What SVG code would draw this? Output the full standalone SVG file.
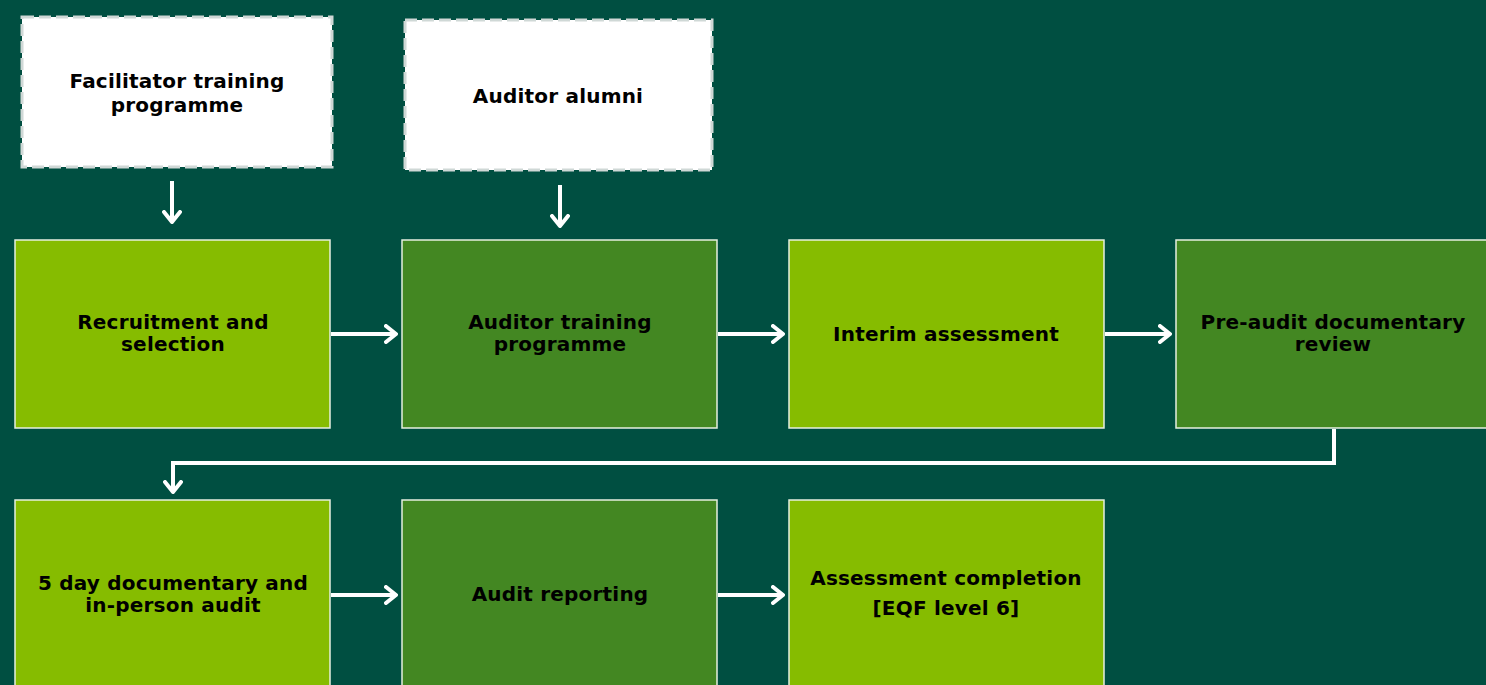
<svg xmlns="http://www.w3.org/2000/svg" width="1486" height="685" viewBox="0 0 1486 685">
<style>
.bg{fill:#004F41}
.dash{fill:#ffffff;stroke:#cfd8d6;stroke-width:3;stroke-dasharray:12 5}
.lg{fill:#86BC00;stroke:#e6efe0;stroke-width:1.5}
.dg{fill:#438722;stroke:#e6efe0;stroke-width:1.5}
.t{font-family:"DejaVu Sans","Verdana",sans-serif;font-weight:bold;font-size:20px;letter-spacing:0.2px;fill:#000;text-anchor:middle;dominant-baseline:central}
.c{fill:none;stroke:#ffffff;stroke-width:4}
</style>
<defs>
<marker id="ah" viewBox="0 0 14 20" refX="12" refY="10" markerWidth="14" markerHeight="20" markerUnits="userSpaceOnUse" orient="auto">
<path d="M2,2 L12,10 L2,18" fill="none" stroke="#ffffff" stroke-width="4" stroke-linecap="round" stroke-linejoin="round"/>
</marker>
</defs>
<rect class="bg" x="0" y="0" width="1486" height="685"/>
<g id="connectors">
<line class="c" x1="172" y1="181" x2="172" y2="222" marker-end="url(#ah)"/>
<line class="c" x1="560" y1="185" x2="560" y2="226" marker-end="url(#ah)"/>
<line class="c" x1="331" y1="334" x2="396" y2="334" marker-end="url(#ah)"/>
<line class="c" x1="718" y1="334" x2="783" y2="334" marker-end="url(#ah)"/>
<line class="c" x1="1105" y1="334" x2="1170" y2="334" marker-end="url(#ah)"/>
<polyline class="c" points="1334,429 1334,463 173,463 173,492" marker-end="url(#ah)"/>
<line class="c" x1="331" y1="595" x2="396" y2="595" marker-end="url(#ah)"/>
<line class="c" x1="718" y1="595" x2="783" y2="595" marker-end="url(#ah)"/>
</g>
<g id="facilitator">
<rect class="dash" x="22" y="17" width="310" height="150"/>
<text class="t" x="177" y="81">Facilitator training</text>
<text class="t" x="177" y="105">programme</text>
</g>
<g id="alumni">
<rect class="dash" x="405" y="20" width="307" height="150"/>
<text class="t" x="558" y="96">Auditor alumni</text>
</g>
<g id="recruitment">
<rect class="lg" x="15" y="240" width="315" height="188"/>
<text class="t" x="173" y="322">Recruitment and</text>
<text class="t" x="173" y="344">selection</text>
</g>
<g id="auditor-training">
<rect class="dg" x="402" y="240" width="315" height="188"/>
<text class="t" x="560" y="322">Auditor training</text>
<text class="t" x="560" y="344">programme</text>
</g>
<g id="interim">
<rect class="lg" x="789" y="240" width="315" height="188"/>
<text class="t" x="946" y="334">Interim assessment</text>
</g>
<g id="pre-audit">
<rect class="dg" x="1176" y="240" width="315" height="188"/>
<text class="t" x="1333" y="322">Pre-audit documentary</text>
<text class="t" x="1333" y="344">review</text>
</g>
<g id="five-day">
<rect class="lg" x="15" y="500" width="315" height="190"/>
<text class="t" x="173" y="583">5 day documentary and</text>
<text class="t" x="173" y="605">in-person audit</text>
</g>
<g id="reporting">
<rect class="dg" x="402" y="500" width="315" height="190"/>
<text class="t" x="560" y="594">Audit reporting</text>
</g>
<g id="completion">
<rect class="lg" x="789" y="500" width="315" height="190"/>
<text class="t" x="946" y="578">Assessment completion</text>
<text class="t" x="946" y="608">[EQF level 6]</text>
</g>
</svg>
